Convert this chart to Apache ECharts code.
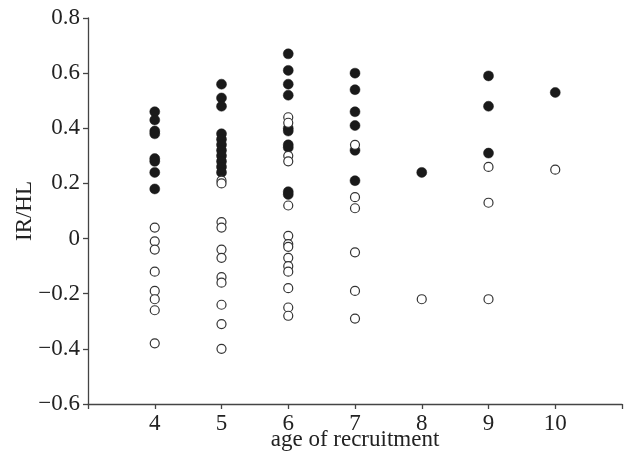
<!DOCTYPE html>
<html>
<head>
<meta charset="utf-8">
<script src="https://cdn.jsdelivr.net/npm/echarts@6/dist/echarts.min.js"></script>
<style>html,body{margin:0;padding:0;background:#fff}#c{width:625px;height:452px}</style>
</head>
<body>
<div id="c"></div>
<script>
// ages of recruitment
const ages = [4, 5, 6, 7, 8, 9, 10];
// filled circles (IR/HL) per age
const filled4 = [0.46, 0.43, 0.39, 0.38, 0.29, 0.28, 0.24, 0.18];
const filled5 = [0.56, 0.51, 0.48, 0.38, 0.36, 0.34, 0.32, 0.30, 0.28, 0.26, 0.24];
const filled6 = [0.67, 0.61, 0.56, 0.52, 0.40, 0.39, 0.34, 0.33, 0.17, 0.16];
const filled7 = [0.60, 0.54, 0.46, 0.41, 0.32, 0.21];
const filled8 = [0.24];
const filled9 = [0.59, 0.48, 0.31];
const filled10 = [0.53];
// open circles (IR/HL) per age
const open4 = [0.04, -0.01, -0.04, -0.12, -0.19, -0.22, -0.26, -0.38];
const open5 = [0.21, 0.20, 0.06, 0.04, -0.04, -0.07, -0.14, -0.16, -0.24, -0.31, -0.40];
const open6 = [0.44, 0.42, 0.30, 0.28, 0.12, 0.01, -0.02, -0.03, -0.07, -0.10, -0.12, -0.18, -0.25, -0.28];
const open7 = [0.34, 0.15, 0.11, -0.05, -0.19, -0.29];
const open8 = [-0.22];
const open9 = [0.26, 0.13, -0.22];
const open10 = [0.25];
// axis ticks
const yTicks = [-0.6, -0.4, -0.2, 0, 0.2, 0.4, 0.6, 0.8];
const xTicks = [4, 5, 6, 7, 8, 9, 10];

const filledGroups = [filled4, filled5, filled6, filled7, filled8, filled9, filled10];
const openGroups = [open4, open5, open6, open7, open8, open9, open10];
function pairs(groups) {
  const out = [];
  groups.forEach((g, i) => g.forEach(v => out.push([ages[i], v])));
  return out;
}

const font = '"Liberation Serif", "DejaVu Serif", serif';
const chart = echarts.init(document.getElementById('c'), null, {renderer: 'canvas'});
chart.setOption({
  animation: false,
  backgroundColor: '#fff',
  grid: {left: 88, right: 3, top: 18, bottom: 48, containLabel: false, outerBoundsMode: 'none'},
  xAxis: {
    type: 'value', min: 3, max: 11, interval: 1,
    name: 'age of recruitment', nameLocation: 'middle', nameGap: 24, nameMoveOverlap: false,
    nameTextStyle: {fontFamily: font, fontSize: 23, color: '#222'},
    axisLine: {show: true, onZero: false, lineStyle: {color: '#444', width: 1.3}},
    axisTick: {show: true, length: 5, lineStyle: {color: '#444', width: 1.3}},
    axisLabel: {
      fontFamily: font, fontSize: 23, color: '#222', margin: 8,
      formatter: v => xTicks.indexOf(v) >= 0 ? String(v) : ''
    },
    splitLine: {show: false}
  },
  yAxis: {
    type: 'value', min: -0.6, max: 0.8, interval: 0.2,
    name: 'IR/HL', nameLocation: 'middle', nameGap: 52, nameMoveOverlap: false,
    nameTextStyle: {fontFamily: font, fontSize: 23, color: '#222'},
    axisLine: {show: true, onZero: false, lineStyle: {color: '#444', width: 1.3}},
    axisTick: {show: true, length: 5, lineStyle: {color: '#444', width: 1.3}},
    axisLabel: {
      fontFamily: font, fontSize: 23, color: '#222', margin: 8,
      formatter: v => {
        const r = Math.round(v * 10) / 10;
        const t = yTicks.find(k => Math.abs(k - r) < 1e-9);
        if (t === undefined) return '';
        if (t === 0) return '0';
        return (t < 0 ? '\u2212' : '') + Math.abs(t).toFixed(1);
      }
    },
    splitLine: {show: false}
  },
  series: [
    {
      type: 'scatter', name: 'filled', data: pairs(filledGroups),
      symbol: 'circle', symbolSize: 10,
      itemStyle: {color: '#1a1a1a', borderColor: '#1a1a1a', borderWidth: 0.5, opacity: 1}
    },
    {
      type: 'scatter', name: 'open', data: pairs(openGroups),
      symbol: 'circle', symbolSize: 9,
      itemStyle: {color: '#fff', borderColor: '#333', borderWidth: 1.2, opacity: 1}
    }
  ]
});
</script>
</body>
</html>
